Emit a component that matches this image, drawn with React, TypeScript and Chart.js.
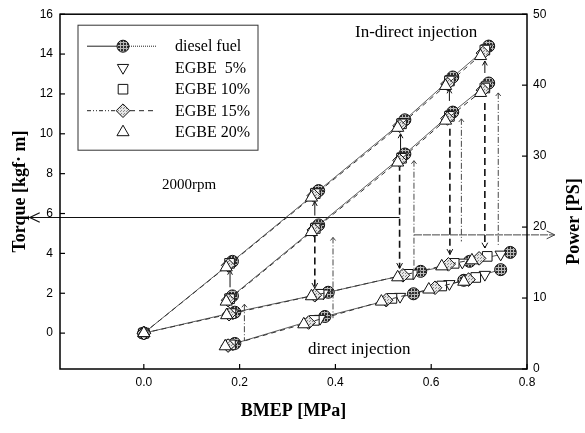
import React, { useEffect, useRef } from 'react';
import { Chart, registerables } from 'chart.js';

Chart.register(...registerables);

// ---------- data ----------
const fuels = ['diesel fuel', 'EGBE  5%', 'EGBE 10%', 'EGBE 15%', 'EGBE 20%'];

const xTicks = [0, 0.2, 0.4, 0.6, 0.8];
const torqueTicks = [0, 2, 4, 6, 8, 10, 12, 14, 16];
const powerTicks = [0, 10, 20, 30, 40, 50];

// In-direct injection: torque (left axis)
const indirectTorqueBmep = [
  [0, 0.185, 0.365, 0.545, 0.645, 0.72],
  [0, 0.182, 0.361, 0.541, 0.641, 0.716],
  [0, 0.179, 0.358, 0.538, 0.638, 0.712],
  [0, 0.176, 0.355, 0.534, 0.634, 0.708],
  [0, 0.172, 0.35, 0.53, 0.63, 0.703],
];
const indirectTorque = [
  [0, 3.6, 7.15, 10.7, 12.85, 14.4],
  [0, 3.55, 7.1, 10.6, 12.75, 14.3],
  [0, 3.5, 7.0, 10.5, 12.65, 14.2],
  [0, 3.4, 6.9, 10.4, 12.5, 14.05],
  [0, 3.3, 6.8, 10.3, 12.4, 13.9],
];

// In-direct injection: power (right axis)
const indirectPowerBmep = [
  [0.185, 0.365, 0.545, 0.645, 0.72],
  [0.182, 0.361, 0.541, 0.641, 0.716],
  [0.179, 0.358, 0.538, 0.638, 0.712],
  [0.176, 0.355, 0.534, 0.634, 0.708],
  [0.172, 0.35, 0.53, 0.63, 0.703],
];
const indirectPower = [
  [10.3, 20.3, 30.3, 36.2, 40.3],
  [10.1, 20.1, 30.0, 35.9, 40.0],
  [9.9, 19.8, 29.7, 35.6, 39.6],
  [9.7, 19.6, 29.4, 35.3, 39.3],
  [9.5, 19.3, 29.1, 35.0, 38.9],
];

// Direct injection: torque (left axis)
const directTorqueBmep = [
  [0, 0.19, 0.385, 0.578, 0.68, 0.765],
  [0, 0.186, 0.375, 0.563, 0.665, 0.745],
  [0, 0.182, 0.366, 0.552, 0.648, 0.717],
  [0, 0.178, 0.357, 0.541, 0.636, 0.7],
  [0, 0.173, 0.35, 0.53, 0.622, 0.685],
];
const directTorque = [
  [0, 1.05, 2.05, 3.1, 3.6, 4.05],
  [0, 1.0, 2.0, 3.0, 3.55, 3.95],
  [0, 0.98, 1.95, 2.95, 3.5, 3.85],
  [0, 0.95, 1.9, 2.9, 3.45, 3.75],
  [0, 0.9, 1.85, 2.8, 3.35, 3.65],
];

// Direct injection: power (right axis)
const directPowerBmep = [
  [0.19, 0.378, 0.563, 0.668, 0.745],
  [0.186, 0.368, 0.535, 0.638, 0.712],
  [0.181, 0.356, 0.518, 0.622, 0.693],
  [0.176, 0.344, 0.506, 0.608, 0.678],
  [0.17, 0.334, 0.496, 0.595, 0.668],
];
const directPower = [
  [3.6, 7.4, 10.6, 12.5, 14.0],
  [3.5, 7.1, 10.2, 12.0, 13.3],
  [3.4, 6.85, 9.95, 11.7, 12.9],
  [3.3, 6.55, 9.7, 11.45, 12.6],
  [3.2, 6.3, 9.5, 11.2, 12.3],
];

// annotation arrows (data units; torque axis unless noted)
const upArrowBmep = [0.18, 0.357, 0.536, 0.638, 0.712];
const upArrowFrom = [2.3, 5.9, 8.8, 11.65, 13.05];
const upArrowTo = [3.15, 6.6, 10.0, 12.25, 13.65];

const dropBmep = [0.357, 0.534, 0.639, 0.712];
const dropFrom = [4.9, 8.5, 10.25, 11.55];
const dropTo = [2.25, 3.25, 3.95, 4.27];

const guideBmep = [0.21, 0.395, 0.564, 0.663, 0.74];
const guideFrom = [1.45, 4.8, 8.65, 10.75, 12.05];
const guideTo = [-0.4, 0.75, 3.2, 4.6, 4.35];

const torqueReadBmep = [0.534, -0.238];
const torqueReadValue = 5.8;
const powerReadBmep = [0.564, 0.858];
const powerReadValue = 18.9; // right axis

// ---------- styles ----------
const markerStyles = ['circle', 'triangle', 'rect', 'rectRot', 'triangle'];
const markerRotation = [0, 180, 0, 0, 0];
const markerRadius = [6, 6.5, 6.8, 6.8, 7];

const SERIF = '"Liberation Serif", "Times New Roman", serif';
const SANS = '"Liberation Sans", Arial, sans-serif';

function makePatterns() {
  const c = document.createElement('canvas');
  c.width = 3; c.height = 3;
  const g = c.getContext('2d')!;
  g.fillStyle = '#2e2e2e'; g.fillRect(0, 0, 3, 3);
  g.fillStyle = '#b8b8b8'; g.fillRect(0, 0, 3, 1); g.fillRect(0, 0, 1, 3);
  const dark = g.createPattern(c, 'repeat');
  const c2 = document.createElement('canvas');
  c2.width = 3; c2.height = 3;
  const g2 = c2.getContext('2d')!;
  g2.fillStyle = '#e6e6e6'; g2.fillRect(0, 0, 3, 3);
  g2.fillStyle = '#8a8a8a'; g2.fillRect(0, 0, 1, 1); g2.fillRect(1, 2, 1, 1);
  const light = g2.createPattern(c2, 'repeat');
  return [dark || '#444', '#ffffff', '#ffffff', light || '#ccc', '#ffffff'];
}

function drawMarker(ctx: CanvasRenderingContext2D, i: number, x: number, y: number, fills: any[]) {
  const r = markerRadius[i];
  const st = markerStyles[i];
  ctx.save();
  ctx.setLineDash([]);
  ctx.beginPath();
  if (st === 'circle') {
    ctx.arc(x, y, r, 0, Math.PI * 2);
  } else if (st === 'triangle') {
    let rad = (markerRotation[i] * Math.PI) / 180;
    ctx.moveTo(x + Math.sin(rad) * r, y - Math.cos(rad) * r);
    rad += (2 * Math.PI) / 3;
    ctx.lineTo(x + Math.sin(rad) * r, y - Math.cos(rad) * r);
    rad += (2 * Math.PI) / 3;
    ctx.lineTo(x + Math.sin(rad) * r, y - Math.cos(rad) * r);
    ctx.closePath();
  } else if (st === 'rect') {
    const s = r * Math.SQRT1_2;
    ctx.rect(x - s, y - s, 2 * s, 2 * s);
  } else {
    ctx.moveTo(x, y - r); ctx.lineTo(x + r, y); ctx.lineTo(x, y + r); ctx.lineTo(x - r, y);
    ctx.closePath();
  }
  ctx.fillStyle = fills[i];
  ctx.fill();
  ctx.strokeStyle = '#111';
  ctx.lineWidth = 1;
  ctx.stroke();
  ctx.restore();
}

function seg(ctx: CanvasRenderingContext2D, x0: number, y0: number, x1: number, y1: number) {
  ctx.beginPath(); ctx.moveTo(x0, y0); ctx.lineTo(x1, y1); ctx.stroke();
}
function head(ctx: CanvasRenderingContext2D, x: number, y: number, ang: number, len: number, spread: number) {
  ctx.save();
  ctx.setLineDash([]);
  ctx.beginPath();
  ctx.moveTo(x - len * Math.cos(ang - spread), y - len * Math.sin(ang - spread));
  ctx.lineTo(x, y);
  ctx.lineTo(x - len * Math.cos(ang + spread), y - len * Math.sin(ang + spread));
  ctx.stroke();
  ctx.restore();
}

export default function App() {
  const ref = useRef<HTMLCanvasElement>(null);

  useEffect(() => {
    document.body.style.margin = '0';
    const fills = makePatterns();

    const build = (xs: number[][], ys: number[][], axis: string) =>
      fuels.map((f, i) => ({
        label: f,
        data: xs[i].map((x, j) => ({ x, y: ys[i][j] })),
        yAxisID: axis,
        showLine: i === 0 || i === 3,
        borderColor: '#333',
        borderWidth: i === 0 ? 0.8 : 1,
        borderDash: i === 3 ? [5, 4] : [],
        pointStyle: markerStyles[i],
        rotation: markerRotation[i],
        pointRadius: markerRadius[i],
        pointBackgroundColor: fills[i],
        pointBorderColor: '#111',
        pointBorderWidth: 1,
        order: 4 - i,
      }));

    const datasets = [
      ...build(indirectTorqueBmep, indirectTorque, 'y'),
      ...build(indirectPowerBmep, indirectPower, 'y1'),
      ...build(directTorqueBmep, directTorque, 'y'),
      ...build(directPowerBmep, directPower, 'y1'),
    ];

    const decor = {
      id: 'decor',
      beforeDraw(chart: any) {
        const { ctx, width, height } = chart;
        ctx.save();
        ctx.fillStyle = '#fff';
        ctx.fillRect(0, 0, width, height);
        ctx.restore();
      },
      beforeDatasetsDraw(chart: any) {
        const { ctx } = chart;
        const { x, y, y1 } = chart.scales;
        ctx.save();
        ctx.strokeStyle = '#111';
        ctx.lineWidth = 1;
        ctx.setLineDash([]);
        upArrowBmep.forEach((b, i) => {
          const px = x.getPixelForValue(b);
          const p0 = y.getPixelForValue(upArrowFrom[i]);
          const p1 = y.getPixelForValue(upArrowTo[i]);
          seg(ctx, px, p0, px, p1);
          head(ctx, px, p1, -Math.PI / 2, 5, 0.5);
        });
        ctx.lineWidth = 1.6;
        ctx.setLineDash([7, 4]);
        dropBmep.forEach((b, i) => {
          const px = x.getPixelForValue(b);
          const p0 = y.getPixelForValue(dropFrom[i]);
          const p1 = y.getPixelForValue(dropTo[i]);
          seg(ctx, px, p0, px, p1);
          ctx.lineWidth = 1;
          head(ctx, px, p1, Math.PI / 2, 6, 0.5);
          ctx.lineWidth = 1.6;
        });
        ctx.lineWidth = 0.9;
        ctx.strokeStyle = '#333';
        ctx.setLineDash([6, 2, 1, 2]);
        guideBmep.forEach((b, i) => {
          const px = x.getPixelForValue(b);
          const p0 = y.getPixelForValue(guideFrom[i]);
          const p1 = y.getPixelForValue(guideTo[i]);
          seg(ctx, px, p0, px, p1);
          head(ctx, px, p0, -Math.PI / 2, 4, 0.7);
        });
        ctx.strokeStyle = '#111';
        ctx.lineWidth = 1.2;
        ctx.setLineDash([]);
        const ty = y.getPixelForValue(torqueReadValue);
        const tx0 = x.getPixelForValue(torqueReadBmep[0]);
        const tx1 = x.getPixelForValue(torqueReadBmep[1]);
        seg(ctx, tx0, ty, tx1, ty);
        head(ctx, tx1, ty, Math.PI, 11, 0.45);
        ctx.strokeStyle = '#444';
        ctx.lineWidth = 1;
        ctx.setLineDash([8, 1]);
        const py = y1.getPixelForValue(powerReadValue);
        const px0 = x.getPixelForValue(powerReadBmep[0]);
        const px1 = x.getPixelForValue(powerReadBmep[1]);
        seg(ctx, px0, py, px1, py);
        head(ctx, px1, py, 0, 9, 0.45);
        ctx.restore();
      },
      afterDraw(chart: any) {
        const { ctx, chartArea: a } = chart;
        const { x, y, y1 } = chart.scales;
        ctx.save();
        ctx.strokeStyle = '#000';
        ctx.lineWidth = 1.5;
        ctx.setLineDash([]);
        ctx.strokeRect(a.left, a.top, a.right - a.left, a.bottom - a.top);
        ctx.lineWidth = 1.2;
        xTicks.forEach((v) => {
          const p = x.getPixelForValue(v);
          seg(ctx, p, a.bottom, p, a.bottom - 5);
        });
        torqueTicks.forEach((v) => {
          const p = y.getPixelForValue(v);
          seg(ctx, a.left, p, a.left + 5, p);
        });
        powerTicks.forEach((v) => {
          const p = y1.getPixelForValue(v);
          seg(ctx, a.right, p, a.right - 5, p);
        });
        // legend box
        const lx0 = a.left + 18, ly0 = a.top + 11, lx1 = a.left + 198, ly1 = a.top + 136;
        ctx.lineWidth = 1;
        ctx.strokeStyle = '#333';
        ctx.strokeRect(lx0, ly0, lx1 - lx0, ly1 - ly0);
        fuels.forEach((f, i) => {
          const ry = ly0 + 21 + i * 21.5;
          const mx = lx0 + 45;
          ctx.strokeStyle = '#222';
          ctx.lineWidth = 1;
          if (i === 0) {
            ctx.setLineDash([]);
            seg(ctx, lx0 + 9, ry, mx, ry);
            ctx.setLineDash([1, 1]);
            seg(ctx, mx + 6, ry, lx0 + 79, ry);
          } else if (i === 3) {
            ctx.setLineDash([4, 2, 1, 2, 1, 2]);
            seg(ctx, lx0 + 9, ry, mx - 7, ry);
            ctx.setLineDash([5, 4]);
            seg(ctx, mx + 7, ry, lx0 + 79, ry);
          }
          ctx.setLineDash([]);
          drawMarker(ctx, i, mx, ry, fills);
          ctx.fillStyle = '#000';
          ctx.font = '16px ' + SERIF;
          ctx.textAlign = 'left';
          ctx.textBaseline = 'middle';
          ctx.fillText(f, lx0 + 97, ry + 1);
        });
        ctx.fillStyle = '#000';
        ctx.textBaseline = 'middle';
        ctx.textAlign = 'left';
        ctx.font = '17px ' + SERIF;
        ctx.fillText('In-direct injection', a.left + 295, a.top + 18);
        ctx.fillText('direct injection', a.left + 248, a.top + 335);
        ctx.font = '15px ' + SERIF;
        ctx.fillText('2000rpm', a.left + 102, a.top + 171);
        ctx.save();
        ctx.translate(574, (a.top + a.bottom) / 2 + 30);
        ctx.rotate(-Math.PI / 2);
        ctx.textAlign = 'center';
        ctx.font = 'bold 18px ' + SERIF;
        ctx.fillText('Power [PS]', 0, 0);
        ctx.restore();
        ctx.restore();
      },
    };

    const tickFont = { family: SANS, size: 12 };

    const chart = new Chart(ref.current!, {
      type: 'scatter',
      data: { datasets: datasets as any },
      options: {
        animation: false,
        responsive: false,
        events: [],
        layout: { padding: { top: 12, left: 0, right: 0, bottom: 0 } },
        plugins: { legend: { display: false }, tooltip: { enabled: false } },
        scales: {
          x: {
            type: 'linear',
            position: 'bottom',
            min: -0.175,
            max: 0.8,
            grid: { display: false, drawTicks: false },
            border: { display: false },
            afterBuildTicks: (s: any) => { s.ticks = xTicks.map((v) => ({ value: v })); },
            afterFit: (s: any) => { s.height = 64; },
            ticks: {
              autoSkip: false,
              maxRotation: 0,
              padding: 6,
              color: '#000',
              font: tickFont,
              callback: (v: any) => Number(v).toFixed(1),
            },
            title: {
              display: true,
              text: 'BMEP [MPa]',
              color: '#000',
              font: { family: SERIF, size: 18, weight: 'bold' },
              padding: { top: 0, bottom: 11 },
            },
          },
          y: {
            type: 'linear',
            position: 'left',
            min: -1.8,
            max: 16,
            grid: { display: false, drawTicks: false },
            border: { display: false },
            afterBuildTicks: (s: any) => { s.ticks = torqueTicks.map((v) => ({ value: v })); },
            afterFit: (s: any) => { s.width = 60; },
            ticks: { autoSkip: false, padding: 7, color: '#000', font: tickFont },
            title: {
              display: true,
              text: 'Torque [kgf· m]',
              color: '#000',
              font: { family: SERIF, size: 18, weight: 'bold' },
              padding: { top: 10, bottom: 0 },
            },
          },
          y1: {
            type: 'linear',
            position: 'right',
            min: 0,
            max: 50,
            grid: { display: false, drawTicks: false },
            border: { display: false },
            afterBuildTicks: (s: any) => { s.ticks = powerTicks.map((v) => ({ value: v })); },
            afterFit: (s: any) => { s.width = 58; },
            ticks: { autoSkip: false, padding: 6, color: '#000', font: tickFont },
          },
        },
      } as any,
      plugins: [decor],
    });
    return () => chart.destroy();
  }, []);

  return (
    <div style={{ width: 585, height: 433 }}>
      <canvas ref={ref} width={585} height={433} />
    </div>
  );
}
